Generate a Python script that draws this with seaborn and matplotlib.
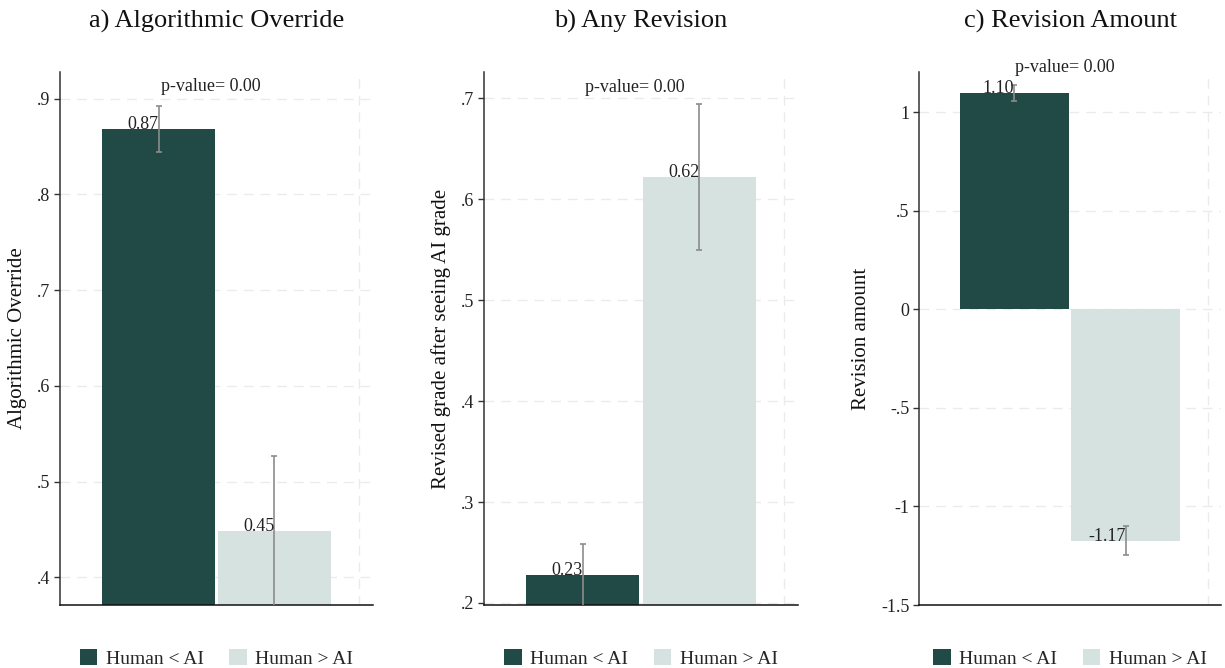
import matplotlib
matplotlib.use("Agg")
import matplotlib.pyplot as plt
from matplotlib.patches import Patch
import seaborn as sns
import numpy as np

sns.set_theme(style="white")
plt.rcParams["font.family"] = ["Liberation Serif", "DejaVu Serif"]

groups = ["Human < AI", "Human > AI"]
colors = ["#214a47", "#d5e2e0"]

titles = ["a) Algorithmic Override", "b) Any Revision", "c) Revision Amount"]
ylabels = ["Algorithmic Override", "Revised grade after seeing AI grade", "Revision amount"]

override_mean = [0.868, 0.448]
override_lo = [0.844, 0.369]
override_hi = [0.892, 0.527]

revision_mean = [0.228, 0.622]
revision_lo = [0.195, 0.550]
revision_hi = [0.258, 0.694]

amount_mean = [1.096, -1.173]
amount_lo = [1.056, -1.244]
amount_hi = [1.137, -1.100]

p_values = [0.00, 0.00, 0.00]
p_text_y = [0.9125, 0.711, 1.228]

yticks = [[0.4, 0.5, 0.6, 0.7, 0.8, 0.9],
          [0.2, 0.3, 0.4, 0.5, 0.6, 0.7],
          [-1.5, -1.0, -0.5, 0.0, 0.5, 1.0]]
yticklabels = [[".4", ".5", ".6", ".7", ".8", ".9"],
               [".2", ".3", ".4", ".5", ".6", ".7"],
               ["-1.5", "-1", "-.5", "0", ".5", "1"]]
ylims = [(0.371, 0.928), (0.198, 0.726), (-1.5, 1.203)]

means = [override_mean, revision_mean, amount_mean]
los = [override_lo, revision_lo, amount_lo]
his = [override_hi, revision_hi, amount_hi]

fig = plt.figure(figsize=(12.25, 6.68), dpi=100)
W, H = 1225, 668
boxes = [(60, 373), (484, 798), (919, 1221)]
top_px, bot_px = 72, 605

for i in range(3):
    l, r = boxes[i]
    ax = fig.add_axes([l / W, (H - bot_px) / H, (r - l) / W, (bot_px - top_px) / H])
    sns.barplot(x=groups, y=means[i], hue=groups, palette=colors, ax=ax,
                width=0.974, legend=False, saturation=1, edgecolor="none")
    ax.set_xlim(-0.85, 1.85)
    ax.set_ylim(*ylims[i])

    # confidence intervals
    xs = np.arange(2)
    m = np.array(means[i])
    err = np.vstack([m - np.array(los[i]), np.array(his[i]) - m])
    ax.errorbar(xs, m, yerr=err, fmt="none", ecolor="#8c8c8c", elinewidth=1.2,
                capsize=2.5, capthick=1.2, zorder=4)

    # value labels
    for x, v in zip(xs, m):
        ax.text(x, v, f"{v:.2f}", ha="right", va="baseline", fontsize=13,
                color="#222222", zorder=5)

    ax.text(0.45, p_text_y[i], f"p-value= {p_values[i]:.2f}", ha="center",
            va="center", fontsize=13, color="#222222", clip_on=False)

    ax.set_yticks(yticks[i])
    ax.set_yticklabels(yticklabels[i], fontsize=13, color="#222222")
    ax.set_xticks([])
    ax.set_xlabel("")
    ax.set_ylabel(ylabels[i], fontsize=15, color="#111111", labelpad=7)
    ax.set_title(titles[i], fontsize=19, color="#111111", pad=32)

    ax.tick_params(axis="y", direction="out", length=4, width=1, color="#333333", pad=3,
                   left=True)
    for yt in yticks[i]:
        ax.axhline(yt, color="#ebebeb", lw=1, ls=(0, (7, 5)), zorder=0)
    ax.axvline(1.73, color="#ebebeb", lw=1, ls=(0, (7, 5)), zorder=0)
    ax.set_axisbelow(True)

    for s in ["top", "right"]:
        ax.spines[s].set_visible(False)
    ax.spines["left"].set_color("#333333")
    ax.spines["bottom"].set_color("#111111")
    ax.spines["left"].set_linewidth(1.1)
    ax.spines["bottom"].set_linewidth(1.1)

    handles = [Patch(facecolor=c, edgecolor="none") for c in colors]
    ax.legend(handles, groups, loc="upper center", bbox_to_anchor=(0.5, -0.05),
              ncol=2, frameon=False, fontsize=14, handlelength=0.9, handleheight=0.9,
              columnspacing=1.3, handletextpad=0.45)

fig.savefig("out.png", dpi=100, facecolor="white")
